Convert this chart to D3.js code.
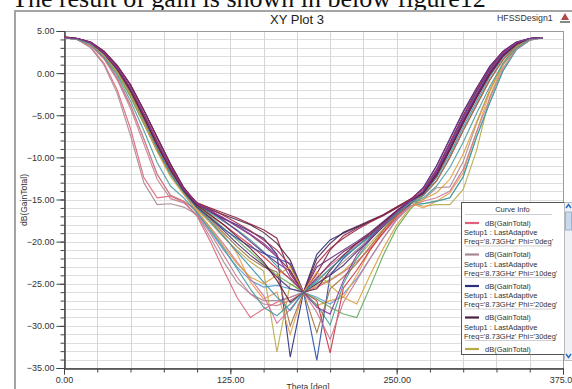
<!DOCTYPE html>
<html>
<head>
<meta charset="utf-8">
<script src="https://cdn.jsdelivr.net/npm/d3@7"></script>
<style>
  body { margin: 0; background: #fff; overflow: hidden; }
  svg text { font-family: Arial, "Liberation Sans", sans-serif; }
</style>
</head>
<body>
<div id="chart"></div>
<script>
// theta samples (deg)
const theta = [0, 10, 20, 30, 40, 50, 60, 70, 80, 90, 100, 110, 120, 130, 140, 150, 160, 170, 180,
  190, 200, 210, 220, 230, 240, 250, 260, 270, 280, 290, 300, 310, 320, 330, 340, 350, 360];

// dB(GainTotal) per Phi cut
const phi0 = [4.2, 4.0, 3.1, 1.2, -2.0, -6.6, -12.4, -14.8, -14.6, -15.3, -17.0, -20.0, -23.4, -26.6, -29.0, -28.0, -27.2, -26.6, -26.0,
  -25.4, -24.6, -23.6, -22.4, -20.8, -19.0, -17.2, -15.6, -14.2, -12.0, -9.0, -5.8, -2.8, 0.0, 2.1, 3.5, 4.1, 4.2];
const phi10 = [4.2, 4.0, 3.0, 1.0, -2.4, -7.4, -13.0, -15.6, -15.5, -15.9, -16.8, -19.5, -22.4, -24.8, -26.2, -27.0, -27.0, -26.6, -26.0,
  -25.0, -23.8, -22.4, -21.0, -19.6, -18.2, -16.8, -15.4, -15.0, -13.6, -13.5, -10.5, -6.0, -2.0, 1.0, 3.0, 4.0, 4.2];
const phi20 = [4.2, 4.1, 3.6, 2.4, 0.6, -1.9, -5.0, -8.3, -11.3, -13.8, -15.6, -16.5, -17.3, -18.0, -18.8, -19.6, -21.5, -33.7, -26.0,
  -21.5, -19.8, -19.0, -18.3, -17.6, -16.9, -16.0, -15.1, -13.6, -11.0, -7.8, -4.6, -1.8, 0.8, 2.6, 3.7, 4.1, 4.2];
const phi30 = [4.2, 4.1, 3.7, 2.6, 0.9, -1.4, -4.4, -7.6, -10.8, -13.6, -15.5, -16.2, -16.8, -17.4, -18.0, -18.9, -20.2, -22.2, -26.0,
  -22.0, -20.2, -18.9, -18.2, -17.5, -16.8, -15.9, -15.0, -14.2, -12.0, -9.0, -5.8, -2.8, 0.0, 2.1, 3.5, 4.1, 4.2];
const phi40 = [4.2, 4.0, 3.3, 1.8, -0.6, -3.8, -7.8, -12.0, -14.5, -15.2, -16.2, -17.8, -19.5, -21.0, -22.4, -23.5, -33.1, -25.0, -26.0,
  -25.2, -24.5, -23.5, -22.0, -20.2, -18.5, -16.8, -15.4, -15.8, -15.6, -15.6, -13.8, -9.2, -2.8, 1.0, 3.2, 4.0, 4.2];
const phi50 = [4.2, 4.0, 3.4, 2.0, 0.0, -2.8, -6.0, -9.2, -12.0, -14.2, -16.6, -18.8, -21.0, -23.0, -24.6, -25.4, -25.2, -25.6, -26.0,
  -26.6, -27.4, -26.2, -24.4, -22.0, -19.6, -17.4, -15.8, -15.5, -15.2, -14.8, -12.3, -7.6, -3.5, 0.3, 2.8, 3.9, 4.2];
const phi60 = [4.2, 4.0, 3.4, 2.0, 0.0, -2.8, -6.0, -9.2, -12.0, -14.2, -16.2, -17.6, -19.2, -21.4, -24.8, -26.8, -26.0, -31.0, -26.0,
  -27.6, -27.0, -26.6, -24.0, -21.0, -18.6, -16.8, -15.4, -16.0, -15.2, -14.2, -11.8, -7.0, -2.2, 1.2, 3.3, 4.0, 4.2];
const phi70 = [4.2, 4.0, 3.5, 2.2, 0.3, -2.4, -5.6, -8.8, -11.8, -14.0, -15.7, -16.6, -17.6, -18.6, -19.8, -21.2, -22.9, -24.5, -26.0,
  -27.5, -29.9, -25.0, -22.0, -19.8, -18.0, -16.5, -15.2, -15.5, -15.2, -14.8, -12.3, -7.6, -3.5, 0.3, 2.8, 3.9, 4.2];
const phi80 = [4.2, 4.1, 3.6, 2.4, 0.6, -1.9, -5.0, -8.3, -11.3, -13.8, -15.4, -16.0, -16.6, -17.2, -17.9, -18.6, -19.6, -23.8, -26.0,
  -23.8, -21.0, -19.3, -18.4, -17.6, -16.8, -15.9, -15.0, -14.2, -12.0, -9.0, -5.8, -2.8, 0.0, 2.1, 3.5, 4.1, 4.2];
const phi90 = [4.3, 4.1, 3.5, 2.3, 0.4, -2.2, -5.4, -8.7, -11.6, -14.0, -15.8, -16.9, -18.0, -19.2, -20.4, -21.8, -23.2, -24.4, -26.0,
  -27.0, -33.2, -25.5, -23.4, -21.0, -18.9, -17.0, -15.5, -14.0, -11.6, -8.4, -5.2, -2.2, 0.5, 2.4, 3.6, 4.1, 4.2];
const phi100 = [4.2, 4.1, 3.7, 2.6, 0.9, -1.4, -4.4, -7.6, -10.8, -13.6, -15.5, -16.4, -17.5, -18.7, -20.0, -21.3, -22.5, -23.5, -26.0,
  -23.0, -22.0, -21.0, -20.0, -18.9, -17.6, -16.3, -15.1, -13.6, -11.0, -7.8, -4.6, -1.8, 0.8, 2.6, 3.7, 4.1, 4.2];
const phi110 = [4.2, 4.0, 3.4, 2.0, 0.0, -2.8, -6.0, -9.2, -12.0, -14.2, -15.8, -17.0, -18.4, -19.8, -21.2, -22.6, -24.0, -25.0, -26.0,
  -26.8, -27.8, -28.6, -29.0, -25.4, -21.6, -18.4, -16.2, -14.5, -12.8, -10.0, -6.8, -3.8, -0.8, 1.6, 3.2, 4.0, 4.2];
const phi120 = [4.2, 4.0, 3.3, 1.8, -0.6, -3.8, -7.8, -12.0, -14.5, -15.2, -16.4, -18.3, -20.3, -22.4, -24.4, -26.4, -29.7, -28.0, -26.0,
  -24.2, -22.8, -21.6, -20.4, -19.2, -17.9, -16.6, -15.3, -14.5, -12.8, -10.0, -6.8, -3.8, -0.8, 1.6, 3.2, 4.0, 4.2];
const phi130 = [4.2, 4.1, 3.6, 2.4, 0.6, -1.9, -5.0, -8.3, -11.3, -13.8, -16.0, -17.2, -18.5, -19.6, -20.6, -21.4, -22.0, -22.6, -26.0,
  -34.1, -24.0, -22.0, -20.6, -19.3, -18.0, -16.8, -15.6, -14.0, -11.6, -8.4, -5.2, -2.2, 0.5, 2.4, 3.6, 4.1, 4.2];
const phi140 = [4.3, 4.1, 3.5, 2.3, 0.4, -2.2, -5.4, -8.7, -11.6, -14.0, -15.9, -17.4, -19.0, -20.6, -22.0, -23.0, -23.6, -30.0, -26.0,
  -30.8, -25.6, -24.2, -22.6, -20.6, -18.6, -16.9, -15.4, -14.5, -12.8, -10.0, -6.8, -3.8, -0.8, 1.6, 3.2, 4.0, 4.2];
const phi150 = [4.2, 4.1, 3.7, 2.6, 0.9, -1.4, -4.4, -7.6, -10.8, -13.6, -15.6, -16.4, -17.2, -18.2, -19.2, -20.4, -21.8, -23.4, -26.0,
  -24.4, -22.6, -21.2, -20.2, -19.2, -17.8, -16.4, -15.2, -14.2, -12.0, -9.0, -5.8, -2.8, 0.0, 2.1, 3.5, 4.1, 4.2];
const phi160 = [4.2, 4.1, 3.5, 2.2, 0.2, -2.6, -5.8, -9.0, -12.0, -14.3, -16.0, -17.6, -19.4, -21.2, -23.0, -24.8, -26.6, -28.2, -26.0,
  -24.6, -23.2, -21.8, -20.6, -19.4, -18.0, -16.6, -15.3, -14.4, -12.4, -9.6, -6.4, -3.4, -0.4, 1.9, 3.4, 4.1, 4.2];
const phi170 = [4.2, 4.1, 3.6, 2.5, 0.7, -1.7, -4.8, -8.0, -11.1, -13.7, -15.4, -16.1, -16.9, -17.8, -18.7, -19.8, -21.0, -22.8, -26.0,
  -22.6, -20.8, -19.6, -18.6, -17.7, -16.9, -16.0, -15.0, -13.8, -11.4, -8.2, -5.0, -2.0, 0.6, 2.5, 3.6, 4.1, 4.2];
const phi180 = [4.2, 4.0, 3.3, 1.7, -0.8, -4.2, -8.4, -12.6, -14.9, -15.4, -16.8, -19.0, -21.6, -24.2, -26.2, -27.4, -27.6, -27.0, -26.0,
  -28.4, -31.6, -27.2, -24.6, -22.0, -19.6, -17.4, -15.8, -15.2, -14.8, -14.0, -11.4, -7.0, -3.0, 0.6, 2.9, 3.9, 4.2];
const phi190 = [4.2, 4.1, 3.6, 2.3, 0.5, -2.0, -5.2, -8.5, -11.5, -14.0, -15.9, -17.2, -18.7, -20.2, -21.6, -22.8, -24.2, -25.6, -26.0,
  -25.0, -24.0, -22.8, -21.2, -19.8, -18.2, -16.7, -15.3, -14.1, -11.8, -8.8, -5.6, -2.6, 0.2, 2.2, 3.5, 4.1, 4.2];
const phi200 = [4.2, 4.0, 3.4, 2.1, 0.1, -2.6, -5.9, -9.3, -12.3, -14.4, -16.4, -18.4, -20.6, -22.6, -24.2, -25.0, -24.0, -23.0, -26.0,
  -23.6, -25.2, -26.6, -27.4, -24.0, -20.8, -18.0, -16.0, -15.0, -14.2, -12.6, -9.6, -5.8, -2.0, 1.2, 3.1, 4.0, 4.2];
const phi210 = [4.3, 4.1, 3.6, 2.4, 0.5, -2.1, -5.2, -8.5, -11.4, -13.9, -15.7, -16.8, -18.0, -19.4, -20.8, -22.4, -24.6, -27.2, -26.0,
  -25.6, -23.4, -21.6, -20.2, -19.0, -17.7, -16.4, -15.2, -14.3, -12.2, -9.2, -6.0, -3.0, -0.2, 2.0, 3.4, 4.1, 4.2];
const phi220 = [4.2, 4.0, 3.4, 1.9, -0.3, -3.3, -6.8, -10.6, -13.4, -14.8, -16.6, -18.6, -20.8, -23.2, -25.6, -27.8, -28.8, -27.4, -26.0,
  -24.8, -23.2, -21.8, -20.6, -19.4, -18.1, -16.7, -15.4, -14.8, -13.4, -11.2, -8.2, -4.8, -1.6, 1.2, 3.0, 4.0, 4.2];
const phi230 = [4.2, 4.1, 3.6, 2.4, 0.6, -1.8, -4.9, -8.2, -11.2, -13.8, -15.5, -16.3, -17.2, -18.1, -19.1, -20.2, -21.6, -24.2, -26.0,
  -27.8, -28.6, -24.6, -21.6, -19.6, -18.0, -16.5, -15.2, -14.0, -11.6, -8.6, -5.4, -2.4, 0.3, 2.3, 3.6, 4.1, 4.2];

const phiLabels = ["0deg", "10deg", "20deg", "30deg", "40deg", "50deg", "60deg", "70deg",
  "80deg", "90deg", "100deg", "110deg", "120deg", "130deg", "140deg", "150deg",
  "160deg", "170deg", "180deg", "190deg", "200deg", "210deg", "220deg", "230deg"];
const curves = [phi0, phi10, phi20, phi30, phi40, phi50, phi60, phi70,
  phi80, phi90, phi100, phi110, phi120, phi130, phi140, phi150,
  phi160, phi170, phi180, phi190, phi200, phi210, phi220, phi230];
const curveColors = ["#e0607a", "#a88890", "#2e2e7e", "#4a2040", "#b8a848", "#5a9ad0", "#e89a48", "#40a090",
  "#8a1c3c", "#d03040", "#6a3088", "#60a858", "#d070a0", "#2850a8", "#a07040", "#7a2858",
  "#3a8fb0", "#9a2a4a", "#c87890", "#503070", "#d8a038", "#6a1c3a", "#4a9aa0", "#8a3a9a"];

const xTicks = [0, 125, 250, 375];
const yTicks = [5, 0, -5, -10, -15, -20, -25, -30, -35];

const width = 572, height = 389;
const plot = { left: 64, right: 563, top: 31, bottom: 368 };

const svg = d3.select("#chart").append("svg")
  .attr("width", width)
  .attr("height", height);

// caption from the document, cut at the top
svg.append("text")
  .attr("x", 12).attr("y", 7)
  .style("font-family", "'Liberation Serif', 'DejaVu Serif', serif")
  .style("font-size", "26px")
  .attr("fill", "#111")
  .text("The result of gain is shown in below figure12");

// window frame
svg.append("path")
  .attr("d", `M15,${height} V11 H${width}`)
  .attr("fill", "none")
  .attr("stroke", "#a4a4a4")
  .attr("stroke-width", 2);

svg.append("text")
  .attr("x", 297).attr("y", 24)
  .attr("text-anchor", "middle")
  .style("font-size", "13px")
  .attr("fill", "#222")
  .text("XY Plot 3");

svg.append("text")
  .attr("x", 497).attr("y", 21)
  .style("font-size", "8.8px")
  .attr("fill", "#333")
  .text("HFSSDesign1");

// little logo
svg.append("path")
  .attr("d", "M565,13 L569,20 L561,20 Z")
  .attr("fill", "#b04a4a");
svg.append("rect").attr("x", 560).attr("y", 21).attr("width", 10).attr("height", 2).attr("fill", "#888");

const x = d3.scaleLinear().domain([0, 375]).range([plot.left, plot.right]);
const y = d3.scaleLinear().domain([-35, 5]).range([plot.bottom, plot.top]);

// grid
const grid = svg.append("g");
grid.selectAll(".hg")
  .data(d3.range(-35, 6, 1))
  .join("line")
  .attr("x1", plot.left).attr("x2", plot.right)
  .attr("y1", d => Math.round(y(d)) + 0.5).attr("y2", d => Math.round(y(d)) + 0.5)
  .attr("stroke", "#dedede");
grid.selectAll(".vg")
  .data(d3.range(0, 376, 25))
  .join("line")
  .attr("y1", plot.top).attr("y2", plot.bottom)
  .attr("x1", d => Math.round(x(d)) + 0.5).attr("x2", d => Math.round(x(d)) + 0.5)
  .attr("stroke", "#d6d6d6");

svg.append("rect")
  .attr("x", plot.left + 0.5).attr("y", plot.top + 0.5)
  .attr("width", plot.right - plot.left).attr("height", plot.bottom - plot.top)
  .attr("fill", "none").attr("stroke", "#9a9a9a");

// axes
const yMinor = d3.axisLeft(y).tickValues(d3.range(-35, 6, 1)).tickSize(4).tickFormat("");
const yMajor = d3.axisLeft(y).tickValues(yTicks).tickSize(8).tickPadding(2).tickFormat(d3.format(".2f"));
const xMinor = d3.axisBottom(x).tickValues(d3.range(0, 376, 25)).tickSize(4).tickFormat("");
const xMajor = d3.axisBottom(x).tickValues(xTicks).tickSize(6).tickPadding(2).tickFormat(d3.format(".2f"));

svg.append("g").attr("transform", `translate(${plot.left + 0.5},0)`).call(yMinor);
svg.append("g").attr("transform", `translate(${plot.left + 0.5},0)`).call(yMajor);
svg.append("g").attr("transform", `translate(0,${plot.bottom + 0.5})`).call(xMinor);
svg.append("g").attr("transform", `translate(0,${plot.bottom + 0.5})`).call(xMajor);

svg.selectAll(".domain, .tick line").attr("stroke", "#444");
svg.selectAll(".tick text").style("font-size", "9px").attr("fill", "#333");

svg.append("text")
  .attr("transform", "translate(27,200) rotate(-90)")
  .attr("text-anchor", "middle")
  .style("font-size", "8.5px")
  .attr("fill", "#333")
  .text("dB(GainTotal)");

svg.append("text")
  .attr("x", 308).attr("y", 390)
  .attr("text-anchor", "middle")
  .style("font-size", "8.5px")
  .attr("fill", "#333")
  .text("Theta [deg]");

// curves
svg.append("clipPath").attr("id", "clip")
  .append("rect")
  .attr("x", plot.left).attr("y", plot.top)
  .attr("width", plot.right - plot.left).attr("height", plot.bottom - plot.top);

const line = d3.line()
  .x((d, i) => x(theta[i]))
  .y(d => y(d));

svg.append("g")
  .attr("clip-path", "url(#clip)")
  .selectAll("path")
  .data(curves)
  .join("path")
  .attr("d", line)
  .attr("fill", "none")
  .attr("stroke", (d, i) => curveColors[i])
  .attr("stroke-width", 1.15)
  .attr("stroke-opacity", 0.9);

// legend (Curve Info)
const lg = { x: 461, y: 202, w: 103, h: 152 };
svg.append("clipPath").attr("id", "legclip")
  .append("rect").attr("x", lg.x).attr("y", lg.y).attr("width", lg.w).attr("height", lg.h);

svg.append("rect")
  .attr("x", lg.x + 0.5).attr("y", lg.y + 0.5)
  .attr("width", lg.w).attr("height", lg.h)
  .attr("fill", "#fff").attr("stroke", "#555");

const leg = svg.append("g").attr("clip-path", "url(#legclip)");
leg.append("text")
  .attr("x", lg.x + lg.w / 2).attr("y", 212)
  .attr("text-anchor", "middle")
  .style("font-size", "7.5px").attr("fill", "#333")
  .text("Curve Info");

const entryH = 31.5;
const entries = leg.selectAll(".entry")
  .data(phiLabels.slice(0, 5))
  .join("g")
  .attr("transform", (d, i) => `translate(0,${223 + i * entryH})`);

entries.append("line")
  .attr("x1", lg.x + 4).attr("x2", lg.x + 91)
  .attr("y1", -8.5).attr("y2", -8.5)
  .attr("stroke", "#cfcfcf");
entries.append("line")
  .attr("x1", lg.x + 4).attr("x2", lg.x + 18)
  .attr("stroke", (d, i) => curveColors[i])
  .attr("stroke-width", 2.2);
entries.append("text")
  .attr("x", lg.x + 24).attr("y", 2.5)
  .style("font-size", "7.5px").attr("fill", "#333")
  .text("dB(GainTotal)");
entries.append("text")
  .attr("x", lg.x + 3).attr("y", 12)
  .style("font-size", "7.5px").attr("fill", "#333")
  .text("Setup1 : LastAdaptive");
entries.append("text")
  .attr("x", lg.x + 3).attr("y", 21)
  .style("font-size", "7.5px").attr("fill", "#333")
  .text(d => `Freq='8.73GHz' Phi='${d}'`);

// scroll bar
const sb = svg.append("g");
sb.append("rect").attr("x", 564.5).attr("y", lg.y + 0.5).attr("width", 8).attr("height", lg.h + 6)
  .attr("fill", "#eef1f5").attr("stroke", "#bbb");
sb.append("rect").attr("x", 565.5).attr("y", 212).attr("width", 6).attr("height", 18)
  .attr("fill", "#c9d8ea").attr("stroke", "#9fb4cc");
sb.append("path").attr("d", "M566,208 L568.5,204.5 L571,208")
  .attr("fill", "none").attr("stroke", "#2a6fc0").attr("stroke-width", 1.5);
sb.append("path").attr("d", `M566,${lg.y + lg.h} L568.5,${lg.y + lg.h + 3.5} L571,${lg.y + lg.h}`)
  .attr("fill", "none").attr("stroke", "#2a6fc0").attr("stroke-width", 1.5);
</script>
</body>
</html>
